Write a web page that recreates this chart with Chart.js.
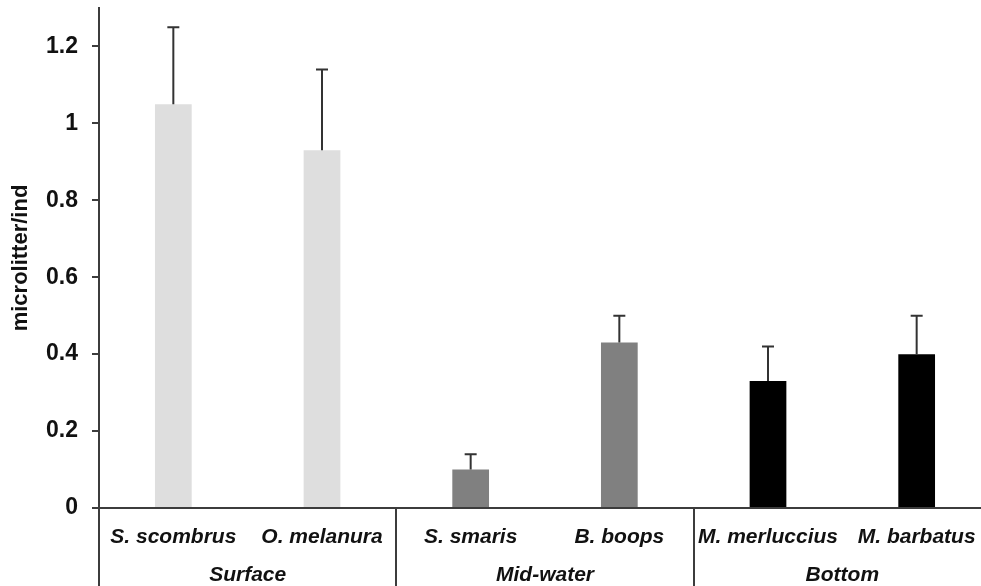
<!DOCTYPE html>
<html>
<head>
<meta charset="utf-8">
<script src="https://cdn.jsdelivr.net/npm/chart.js@4/dist/chart.umd.min.js"></script>
<style>
  html, body { margin: 0; padding: 0; background: #ffffff; }
  #wrap { width: 981px; height: 586px; overflow: hidden; position: relative; }
  canvas { display: block; }
</style>
</head>
<body>
<div id="wrap"><canvas id="c" width="1000" height="586"></canvas></div>
<script>
// Microlitter ingested per individual, by species and water-column habitat
const species = ['S. scombrus', 'O. melanura', 'S. smaris', 'B. boops', 'M. merluccius', 'M. barbatus'];
const habitats = ['Surface', 'Mid-water', 'Bottom'];
const meanItems = [1.05, 0.93, 0.10, 0.43, 0.33, 0.40];
const sdItems = [0.20, 0.21, 0.04, 0.07, 0.09, 0.10];
const yTicks = [0, 0.2, 0.4, 0.6, 0.8, 1.0, 1.2];

const FONT = '"Liberation Sans", Arial, Helvetica, sans-serif';
const AXIS = '#3c3c3c';
const habitatColors = ['#dedede', '#808080', '#000000'];
const barColors = species.map((_, i) => habitatColors[Math.floor(i / 2)]);

// Upper error whiskers (mean + SD) drawn on top of each bar
const errorBars = {
  id: 'errorBars',
  afterDatasetsDraw(chart) {
    const ctx = chart.ctx;
    const y = chart.scales.y;
    const meta = chart.getDatasetMeta(0);
    ctx.save();
    ctx.strokeStyle = '#333333';
    ctx.lineWidth = 2;
    meta.data.forEach((bar, i) => {
      const top = y.getPixelForValue(meanItems[i] + sdItems[i]);
      ctx.beginPath();
      ctx.moveTo(bar.x, bar.y);
      ctx.lineTo(bar.x, top);
      ctx.moveTo(bar.x - 6, top);
      ctx.lineTo(bar.x + 6, top);
      ctx.stroke();
    });
    ctx.restore();
  }
};

// keep scales from reserving extra room for overhanging labels
function noOverhang(s) {
  s.paddingTop = 0;
  s.paddingBottom = 0;
  s.paddingLeft = 0;
  s.paddingRight = 0;
}

new Chart(document.getElementById('c'), {
  type: 'bar',
  data: {
    labels: species,
    datasets: [{
      data: meanItems,
      backgroundColor: barColors,
      borderWidth: 0,
      barPercentage: 0.247,
      categoryPercentage: 1.0,
      xAxisID: 'x'
    }]
  },
  options: {
    responsive: false,
    animation: false,
    layout: { padding: { top: 8, right: 9, bottom: 0, left: 0 } },
    plugins: { legend: { display: false }, tooltip: { enabled: false } },
    scales: {
      x: {
        type: 'category',
        position: 'bottom',
        offset: true,
        afterFit(s) { s.height = 40; noOverhang(s); },
        border: { display: true, color: AXIS, width: 2 },
        grid: {
          offset: true,
          drawOnChartArea: false,
          drawTicks: true,
          tickLength: 40,
          lineWidth: 2,
          color: (c) => (c.index % 2 === 0 ? AXIS : 'rgba(0,0,0,0)')
        },
        ticks: {
          color: '#111111',
          font: { family: FONT, size: 21, style: 'italic', weight: 'bold' },
          padding: -23,
          maxRotation: 0,
          autoSkip: false
        }
      },
      habitat: {
        type: 'category',
        position: 'bottom',
        labels: habitats,
        offset: true,
        afterFit(s) { s.height = 38; noOverhang(s); },
        border: { display: false },
        grid: {
          offset: true,
          drawOnChartArea: false,
          drawTicks: true,
          tickLength: 38,
          lineWidth: 2,
          color: AXIS
        },
        ticks: {
          color: '#111111',
          font: { family: FONT, size: 21, style: 'italic', weight: 'bold' },
          padding: -23,
          maxRotation: 0,
          autoSkip: false
        }
      },
      y: {
        type: 'linear',
        min: 0,
        max: 1.3,
        afterFit(s) { s.width = 99; noOverhang(s); },
        afterBuildTicks(s) { s.ticks = yTicks.map(v => ({ value: v })); },
        border: { display: true, color: AXIS, width: 2 },
        grid: {
          drawOnChartArea: false,
          drawTicks: true,
          tickLength: 7,
          lineWidth: 2,
          color: AXIS
        },
        ticks: {
          color: '#111111',
          font: { family: FONT, size: 23, weight: 'bold' },
          padding: 14,
          callback: (v) => String(Math.round(v * 10) / 10)
        },
        title: {
          display: true,
          text: 'microlitter/ind',
          color: '#111111',
          font: { family: FONT, size: 22, weight: 'bold' },
          padding: { top: 8, bottom: 0 }
        }
      }
    }
  },
  plugins: [errorBars]
});
</script>
</body>
</html>
